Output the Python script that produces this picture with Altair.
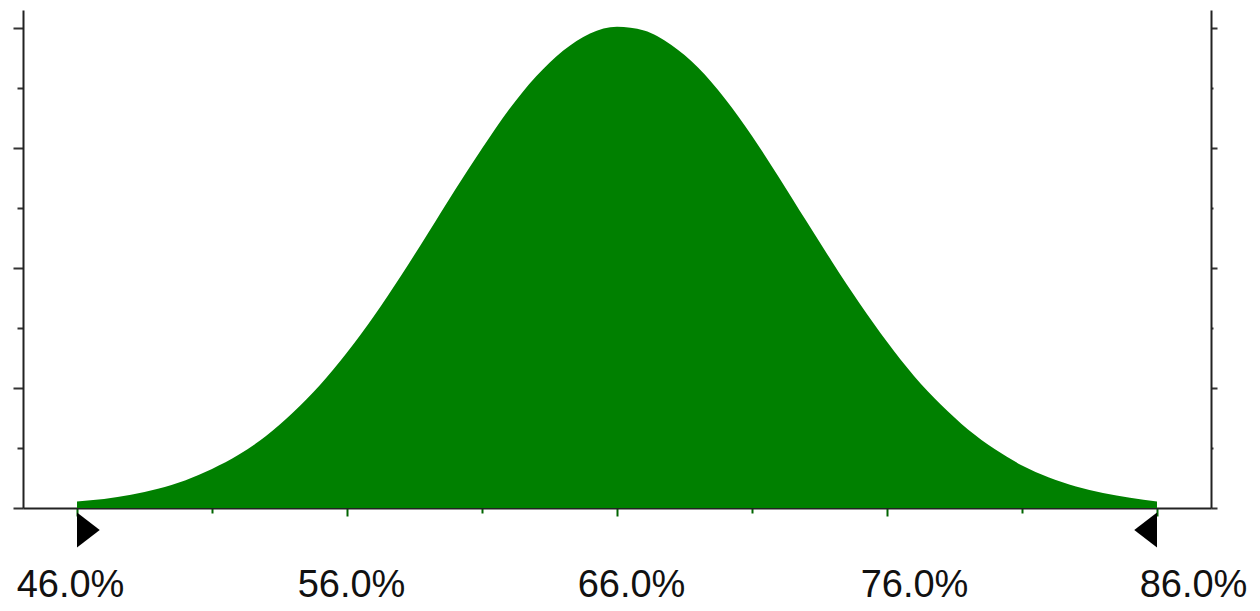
import altair as alt
import pandas as pd

# Distribution values (percent -> relative height)
pct = list(range(46, 87))
density = [0.11, 0.15, 0.22, 0.32, 0.46, 0.65, 0.89, 1.20, 1.59, 2.05,
           2.59, 3.20, 3.87, 4.58, 5.30, 5.99, 6.64, 7.19, 7.62, 7.91,
           8.02,
           7.96, 7.72, 7.34, 6.82, 6.20, 5.51, 4.79, 4.08, 3.40, 2.77,
           2.20, 1.72, 1.31, 0.98, 0.71, 0.51, 0.36, 0.25, 0.17, 0.11]

x_tick_values = [46, 51, 56, 61, 66, 71, 76, 81, 86]
y_tick_values = [0, 1, 2, 3, 4, 5, 6, 7, 8]
marker_left = [46]
marker_right = [86]

df = pd.DataFrame({"pct": pct, "density": density})
df_left = pd.DataFrame({"pos": marker_left, "base": [0] * len(marker_left)})
df_right = pd.DataFrame({"pos": marker_right, "base": [0] * len(marker_right)})

x_scale = alt.Scale(domain=[44, 88], nice=False, zero=False)
y_scale = alt.Scale(domain=[0, 8.3], nice=False)

x_axis = alt.Axis(
    values=x_tick_values,
    title=None,
    grid=False,
    domainColor="#222222",
    domainWidth=2,
    tickColor="#006400",
    tickWidth=2,
    tickSize={"condition": {"test": "datum.value % 10 == 6", "value": 8}, "value": 5},
    labelExpr="datum.value % 10 == 6 ? format(datum.value, '.1f') + '%' : ''",
    labelFont="Liberation Sans",
    labelFontSize=38,
    labelColor="#111111",
    labelBaseline="alphabetic",
    labelPadding=80,
    labelFlush=False,
    labelOverlap=False,
    labelOffset={
        "condition": [
            {"test": "datum.value == 46", "value": -7},
            {"test": "datum.value == 56", "value": 4},
            {"test": "datum.value == 66", "value": 14},
            {"test": "datum.value == 76", "value": 27},
            {"test": "datum.value == 86", "value": 36},
        ],
        "value": 0,
    },
)

y_axis_left = alt.Axis(
    orient="left",
    values=y_tick_values,
    labels=False,
    title=None,
    grid=False,
    domainColor="#222222",
    domainWidth=2,
    tickColor="#333333",
    tickWidth=2,
    tickSize={"condition": {"test": "datum.value % 2 == 0", "value": 10}, "value": 6},
)

y_axis_right = alt.Axis(
    orient="right",
    values=y_tick_values,
    labels=False,
    title=None,
    grid=False,
    domainColor="#222222",
    domainWidth=2,
    tickColor="#333333",
    tickWidth=2,
    tickSize={"condition": {"test": "datum.value % 2 == 0", "value": 6}, "value": 2},
)

area = alt.Chart(df).mark_area(color="#008000", interpolate="monotone").encode(
    x=alt.X("pct:Q", scale=x_scale, axis=x_axis),
    y=alt.Y("density:Q", scale=y_scale, axis=y_axis_left),
)

tri_left = alt.Chart(df_left).mark_point(
    shape="M0,-1L1.3,0L0,1Z", size=1225, filled=True, color="black", opacity=1, yOffset=22
).encode(
    x=alt.X("pos:Q", scale=x_scale, axis=x_axis),
    y=alt.Y("base:Q", scale=y_scale, axis=y_axis_right),
)

tri_right = alt.Chart(df_right).mark_point(
    shape="M0,-1L-1.3,0L0,1Z", size=1225, filled=True, color="black", opacity=1, yOffset=22
).encode(
    x=alt.X("pos:Q", scale=x_scale, axis=x_axis),
    y=alt.Y("base:Q", scale=y_scale, axis=None),
)

chart = alt.layer(area, tri_left, tri_right).resolve_axis(y="independent").properties(
    width=1188,
    height=498,
    padding={"left": 4, "top": 2, "right": 0, "bottom": 0},
    background="white",
).configure_view(stroke=None)

chart.save("out.html", embed_options={"renderer": "svg", "actions": False})
